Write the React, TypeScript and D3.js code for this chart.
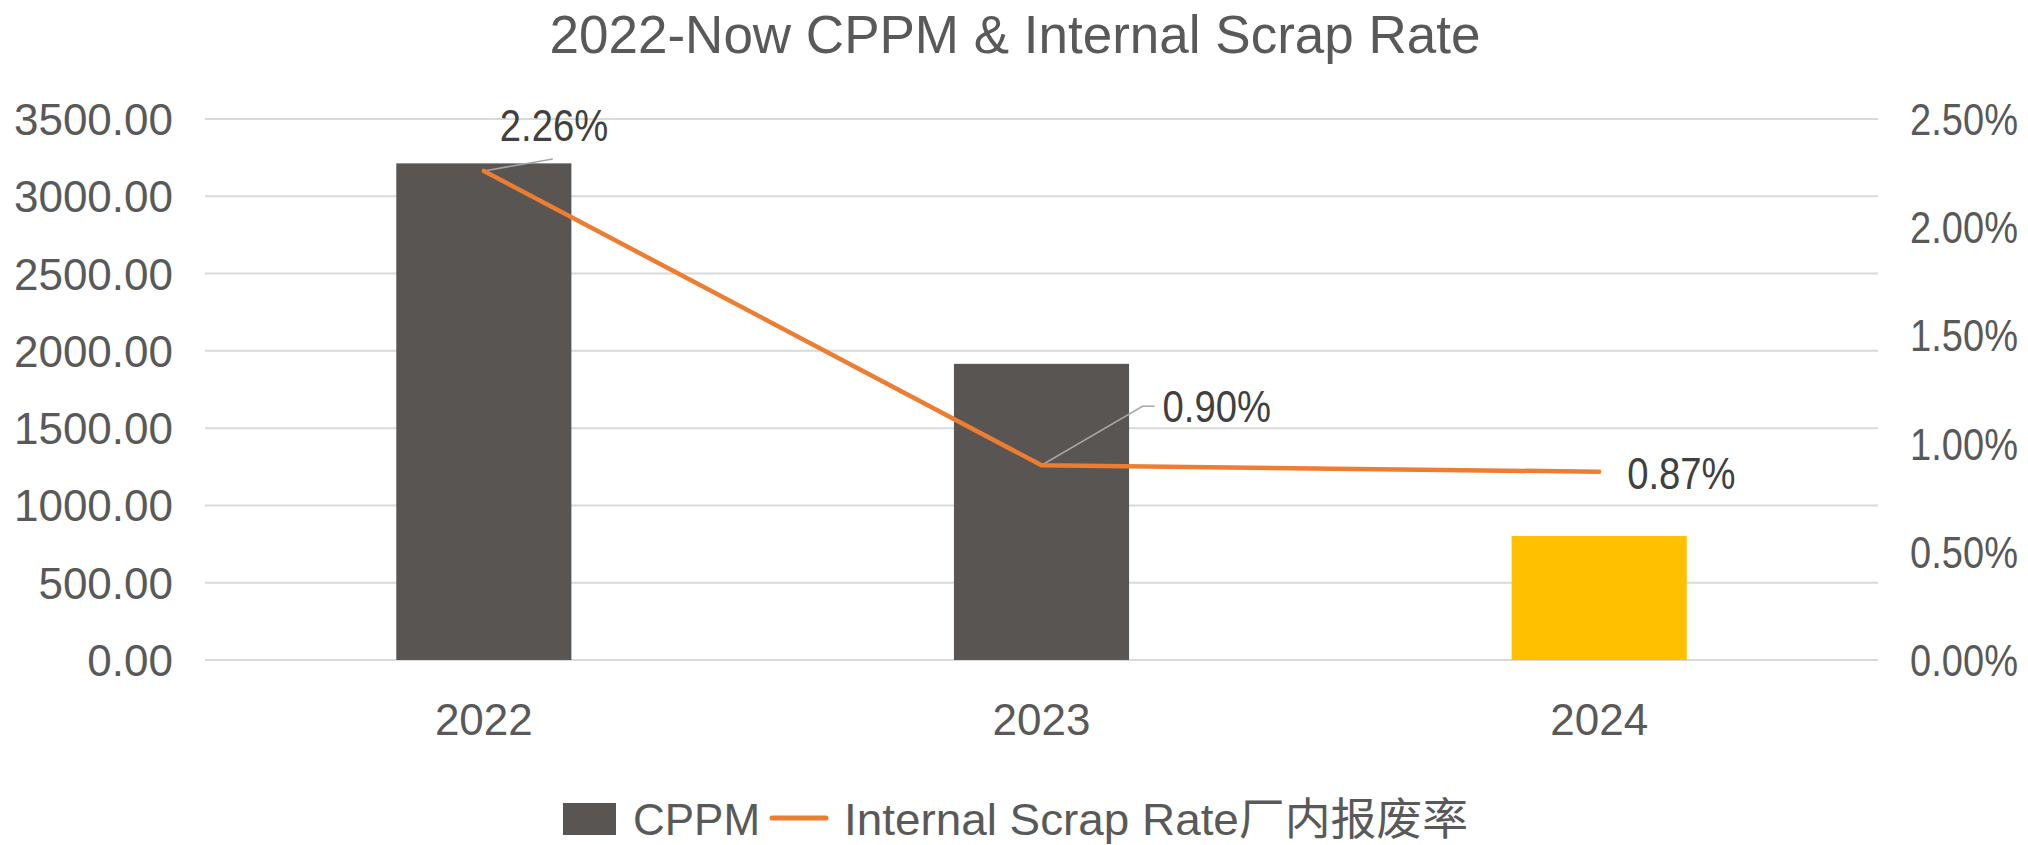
import React, { useEffect, useRef } from "react";
import * as d3 from "d3";

const years = ["2022", "2023", "2024"];
const cppm = [3213, 1916, 802];
const scrapRate = [2.26, 0.9, 0.87];
const leftTicks = [0, 500, 1000, 1500, 2000, 2500, 3000, 3500];
const rightTicks = [0, 0.5, 1, 1.5, 2, 2.5];
const barColors = ["#595552", "#595552", "#FFC000"];

const seriesNames = ["CPPM", "Internal Scrap Rate厂内报废率"];

const numFont = "'Liberation Sans', Arial, 'Noto Sans CJK SC', sans-serif";

const App = () => {
  const ref = useRef<SVGSVGElement | null>(null);

  useEffect(() => {
    const width = 2028;
    const height = 845;
    const left = 205;
    const right = 1878;
    const top = 119;
    const bottom = 660;

    const svg = d3.select(ref.current);
    svg.selectAll("*").remove();
    svg.attr("width", width).attr("height", height);

    const x = d3.scaleBand().domain(years).range([left, right]).padding(0);
    const yLeft = d3.scaleLinear().domain([0, 3500]).range([bottom, top]);
    const yRight = d3.scaleLinear().domain([0, 2.5]).range([bottom, top]);
    const barW = x.bandwidth() * 0.314;
    const cx = (d: string) => (x(d) as number) + x.bandwidth() / 2;

    // title
    svg.append("text")
      .attr("x", 1015)
      .attr("y", 53)
      .attr("text-anchor", "middle")
      .attr("font-family", numFont)
      .attr("font-size", 53)
      .attr("fill", "#595959")
      .text("2022-Now CPPM & Internal Scrap Rate");

    // gridlines
    svg.append("g")
      .selectAll("line")
      .data(leftTicks)
      .enter()
      .append("line")
      .attr("x1", left)
      .attr("x2", right)
      .attr("y1", (d) => yLeft(d))
      .attr("y2", (d) => yLeft(d))
      .attr("stroke", "#D9D9D9")
      .attr("stroke-width", 2);

    // left axis labels
    svg.append("g")
      .selectAll("text")
      .data(leftTicks)
      .enter()
      .append("text")
      .attr("x", 173)
      .attr("y", (d) => yLeft(d) + 16)
      .attr("text-anchor", "end")
      .attr("font-family", numFont)
      .attr("font-size", 44)
      .attr("fill", "#595959")
      .text((d) => d.toFixed(2));

    // right axis labels (narrowed horizontally, the source font has a slim %)
    svg.append("g")
      .selectAll("text")
      .data(rightTicks)
      .enter()
      .append("text")
      .attr("transform", (d) => `translate(2018,${yRight(d) + 16}) scale(0.865,1)`)
      .attr("text-anchor", "end")
      .attr("font-family", numFont)
      .attr("font-size", 44)
      .attr("fill", "#595959")
      .text((d) => d.toFixed(2) + "%");

    // x labels
    svg.append("g")
      .selectAll("text")
      .data(years)
      .enter()
      .append("text")
      .attr("x", (d) => cx(d))
      .attr("y", 735)
      .attr("text-anchor", "middle")
      .attr("font-family", numFont)
      .attr("font-size", 44)
      .attr("fill", "#595959")
      .text((d) => d);

    // bars
    svg.append("g")
      .selectAll("rect")
      .data(cppm)
      .enter()
      .append("rect")
      .attr("x", (d, i) => cx(years[i]) - barW / 2)
      .attr("y", (d) => yLeft(d))
      .attr("width", barW)
      .attr("height", (d) => bottom - yLeft(d))
      .attr("fill", (d, i) => barColors[i]);

    // leader lines + labels
    const pts = scrapRate.map((v, i) => [cx(years[i]), yRight(v)] as [number, number]);
    const labelPos = [
      { dx: 16, dy: -30, leader: [[69, -12]] },
      { dx: 121, dy: -43, leader: [[101, -59], [113, -59]] },
      { dx: 28, dy: 17, leader: [] as number[][] },
    ];
    labelPos.forEach((lp, i) => {
      const [px, py] = pts[i];
      if (lp.leader.length) {
        const path = d3.line()([[px, py], ...lp.leader.map((p) => [px + p[0], py + p[1]] as [number, number])]);
        svg.append("path")
          .attr("d", path)
          .attr("fill", "none")
          .attr("stroke", "#A6A6A6")
          .attr("stroke-width", 1.5);
      }
    });

    // line
    svg.append("path")
      .attr("d", d3.line()(pts))
      .attr("fill", "none")
      .attr("stroke", "#ED7D31")
      .attr("stroke-width", 4.5)
      .attr("stroke-linecap", "round")
      .attr("stroke-linejoin", "round");

    labelPos.forEach((lp, i) => {
      const [px, py] = pts[i];
      svg.append("text")
        .attr("transform", `translate(${px + lp.dx},${py + lp.dy}) scale(0.85,1)`)
        .attr("font-family", numFont)
        .attr("font-size", 45)
        .attr("fill", "#404040")
        .text(scrapRate[i].toFixed(2) + "%");
    });

    // legend
    const lg = svg.append("g");
    lg.append("rect")
      .attr("x", 563)
      .attr("y", 803)
      .attr("width", 53)
      .attr("height", 32)
      .attr("fill", "#595552");
    lg.append("text")
      .attr("x", 633)
      .attr("y", 835)
      .attr("font-family", numFont)
      .attr("font-size", 44)
      .attr("fill", "#595959")
      .text(seriesNames[0]);
    lg.append("line")
      .attr("x1", 772)
      .attr("x2", 826)
      .attr("y1", 818)
      .attr("y2", 818)
      .attr("stroke", "#ED7D31")
      .attr("stroke-width", 5)
      .attr("stroke-linecap", "round");
    lg.append("text")
      .attr("x", 844)
      .attr("y", 835)
      .attr("font-family", numFont)
      .attr("font-size", 44)
      .attr("fill", "#595959")
      .attr("textLength", 624)
      .attr("lengthAdjust", "spacingAndGlyphs")
      .text(seriesNames[1]);
  }, []);

  return (
    <svg
      ref={ref}
      style={{ position: "absolute", left: 0, top: 0, display: "block", background: "#fff" }}
    />
  );
};

export default App;
